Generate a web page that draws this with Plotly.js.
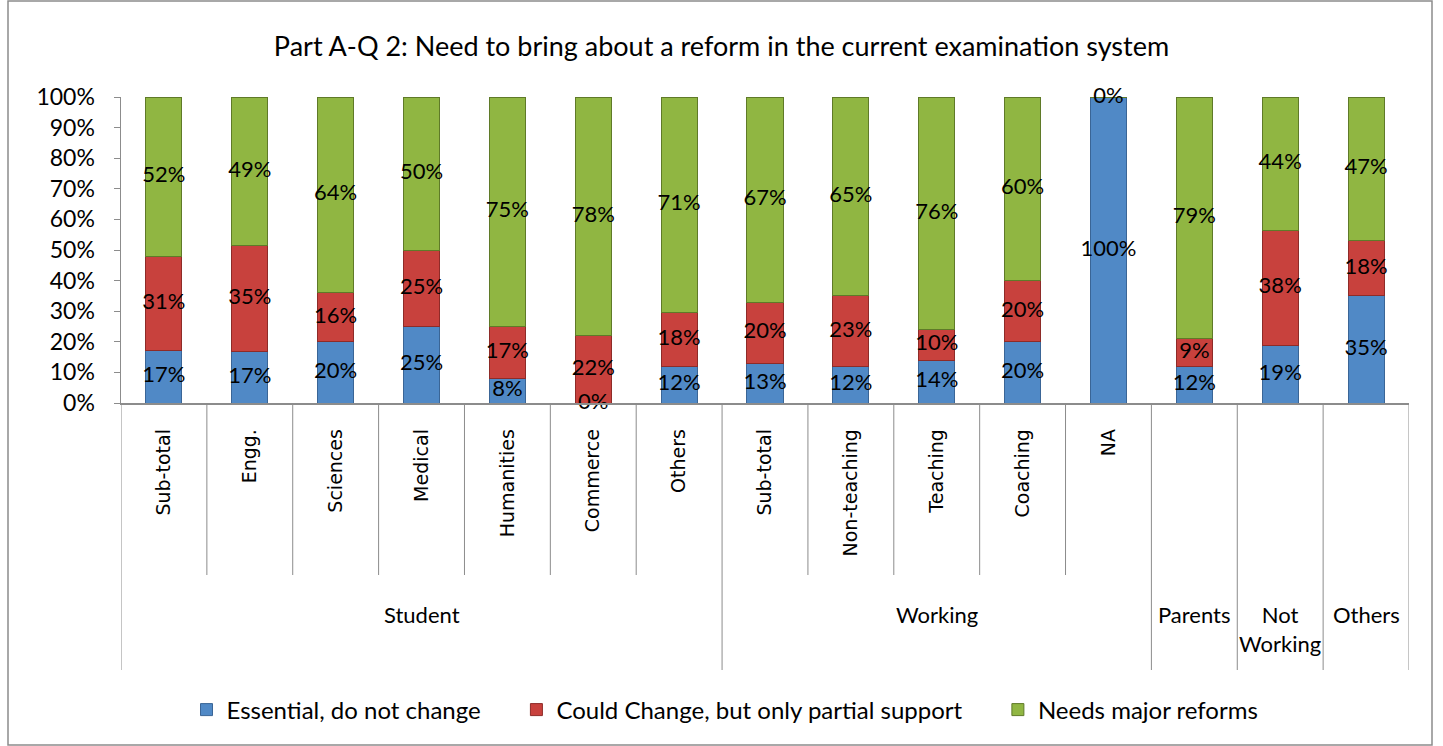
<!DOCTYPE html>
<html>
<head>
<meta charset="utf-8">
<script src="https://cdn.plot.ly/plotly-3.0.1.min.js"></script>
<style>
html,body{margin:0;padding:0;background:#fff;}
#chart{width:1443px;height:746px;}
</style>
</head>
<body>
<div id="chart"></div>
<script>
// ---- data ----
const innerLabels = ['Sub-total','Engg.','Sciences','Medical','Humanities','Commerce','Others','Sub-total','Non-teaching','Teaching','Coaching','NA','','',''];
const outerLabels = ['Student','Student','Student','Student','Student','Student','Student','Working','Working','Working','Working','Working','Parents','Not<br>Working','Others'];
const essential   = [17,17,20,25,8,0,12,13,12,14,20,100,12,19,35];
const couldChange = [31,35,16,25,17,22,18,20,23,10,20,0,9,38,18];
const needsReform = [52,49,64,50,75,78,71,67,65,76,60,0,79,44,47];
const seriesNames = ['Essential, do not change','Could Change, but only partial support','Needs major reforms'];
const yTicks = [0,10,20,30,40,50,60,70,80,90,100];

// ---- build ----
const colors = ['#5089C6','#C8413D','#90B642'];
const lineColors = ['#3A6596','#8E2B28','#5F7A28'];
const series = [essential, couldChange, needsReform];
const xs = innerLabels.map((_, i) => i);
const totals = xs.map(i => essential[i] + couldChange[i] + needsReform[i]);
const norm = series.map(s => s.map((v, i) => totals[i] ? v / totals[i] * 100 : 0));

const traces = series.map((s, k) => ({
  type: 'bar', x: xs, y: norm[k],
  name: seriesNames[k] + (k < 2 ? '\u00a0'.repeat(5) : ''),
  width: 0.42,
  marker: {color: colors[k], line: {color: lineColors[k], width: 1}},
  hoverinfo: 'skip'
}));

// label positions (center of each segment)
const lx = [], ly = [], lt = [];
xs.forEach(i => {
  let base = 0;
  for (let k = 0; k < 3; k++) {
    const h = norm[k][i];
    const show = !(i === 11 && k === 1); // NA red segment has no label
    if (show) { lx.push(i); ly.push(base + h / 2); lt.push(series[k][i] + '%'); }
    base += h;
  }
});
traces.push({
  type: 'scatter', mode: 'text', x: lx, y: ly, text: lt,
  textposition: 'middle center',
  textfont: {family: 'Lato, sans-serif', size: 22, color: '#000'},
  showlegend: false, hoverinfo: 'skip', cliponaxis: false
});

// shapes: dividers
const shapes = [];
const innerBottom = (403 - 575) / 306;
const outerBottom = (403 - 670) / 306;
for (let b = 0; b <= xs.length; b++) {
  const isOuter = b === 0 || b === xs.length || outerLabels[b] !== outerLabels[b - 1];
  shapes.push({type: 'line', xref: 'x', yref: 'paper', x0: b - 0.5, x1: b - 0.5,
    y0: 0, y1: isOuter ? outerBottom : innerBottom, line: {color: '#8c8c8c', width: 1}});
}
// outer border of chart
shapes.push({type: 'rect', xref: 'paper', yref: 'paper',
  x0: (8 - 121) / 1288, x1: (1432 - 121) / 1288, y0: (403 - 745) / 306, y1: (403 - 1) / 306,
  line: {color: '#8c8c8c', width: 1.5}, layer: 'below'});

// outer group labels
const annotations = [];
let start = 0;
for (let i = 1; i <= outerLabels.length; i++) {
  if (i === outerLabels.length || outerLabels[i] !== outerLabels[start]) {
    const txt = outerLabels[start];
    const mid = (start + i - 1) / 2;
    annotations.push({xref: 'x', yref: 'paper', x: mid, y: (403 - 599) / 306,
      text: txt, showarrow: false, yanchor: 'top', xanchor: 'center',
      font: {family: 'Lato, sans-serif', size: 22, color: '#000'}});
    start = i;
  }
}

const tv = xs.filter(i => innerLabels[i] !== '');
const layout = {
  width: 1443, height: 746,
  margin: {l: 121, r: 34, t: 97, b: 343},
  paper_bgcolor: '#fff', plot_bgcolor: '#fff',
  barmode: 'stack',
  title: {text: 'Part A-Q 2: Need to bring about a reform in the current examination system',
    x: 0.5, xref: 'container', y: 1 - 47 / 746, yref: 'container', yanchor: 'middle',
    font: {family: 'Lato, sans-serif', size: 27, color: '#000'}},
  xaxis: {
    range: [-0.5, xs.length - 0.5], tickvals: tv, ticktext: tv.map(i => innerLabels[i]),
    tickangle: -90, ticks: '', showline: true, linecolor: '#8c8c8c', linewidth: 1.5,
    showgrid: false, zeroline: false, ticklabelstandoff: 17,
    tickfont: {family: 'DejaVu Sans, sans-serif', size: 19, color: '#000'}
  },
  yaxis: {
    range: [0, 100], tickvals: yTicks, ticktext: yTicks.map(v => v + '%'),
    ticks: 'outside', ticklen: 6, tickcolor: '#8c8c8c', showline: true, linecolor: '#8c8c8c', linewidth: 1.5,
    showgrid: false, zeroline: false, ticklabelstandoff: 14,
    tickfont: {family: 'Lato, sans-serif', size: 23, color: '#000'}
  },
  legend: {orientation: 'h', traceorder: 'normal', x: (725 - 121) / 1288, xanchor: 'center', y: (403 - 710) / 306, yanchor: 'middle',
    font: {family: 'Lato, sans-serif', size: 24, color: '#000'}},
  shapes: shapes,
  annotations: annotations,
  showlegend: true
};

Plotly.newPlot('chart', traces, layout, {staticPlot: true, displayModeBar: false});
</script>
</body>
</html>
